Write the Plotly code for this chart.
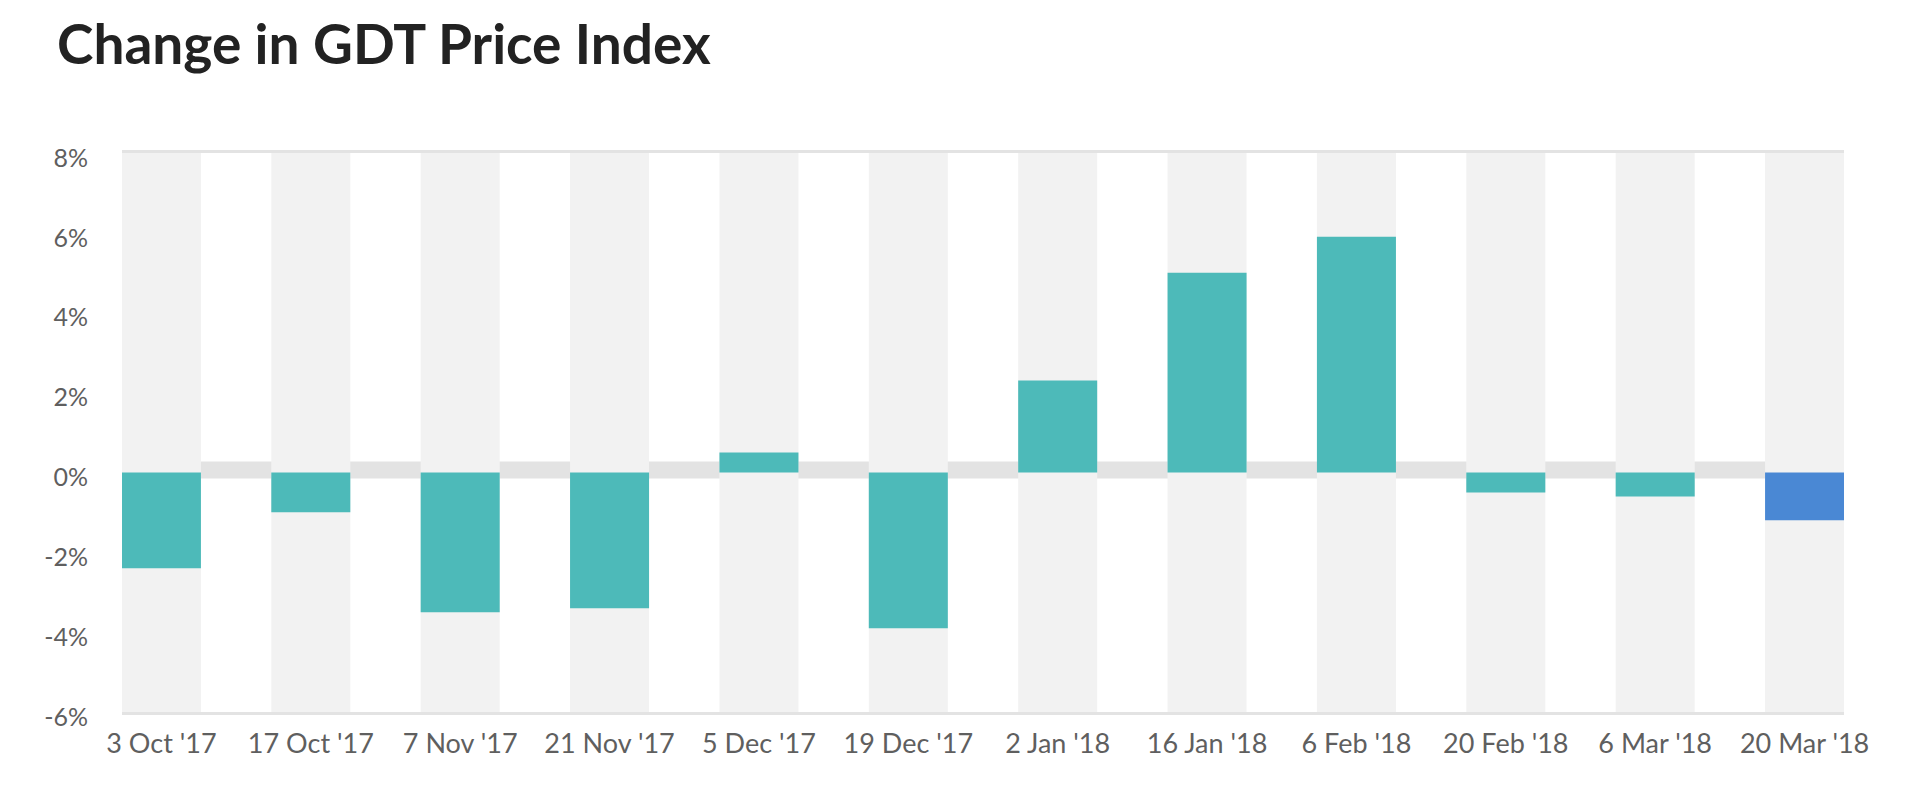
import plotly.graph_objects as go

# ---- data ----
dates = ["3 Oct '17", "17 Oct '17", "7 Nov '17", "21 Nov '17", "5 Dec '17", "19 Dec '17",
         "2 Jan '18", "16 Jan '18", "6 Feb '18", "20 Feb '18", "6 Mar '18", "20 Mar '18"]
change_pct = [-2.4, -1.0, -3.5, -3.4, 0.5, -3.9, 2.3, 5.0, 5.9, -0.5, -0.6, -1.2]
ytick_vals = [8, 6, 4, 2, 0, -2, -4, -6]
ytick_text = ["8%", "6%", "4%", "2%", "0%", "-2%", "-4%", "-6%"]
y_min, y_max = -6, 8

TEAL = "#4DBAB9"
BLUE = "#4A88D4"
bar_colors = [TEAL] * (len(dates) - 1) + [BLUE]

# page body has an 8px margin, so the figure is sized/offset to compensate
FIG_W, FIG_H = 1904, 783

fig = go.Figure()

# background columns behind each bar
fig.add_trace(go.Bar(
    x=dates,
    y=[y_max - y_min] * len(dates),
    base=[y_min] * len(dates),
    marker=dict(color="#F2F2F2", line=dict(width=0)),
    hoverinfo="skip",
    showlegend=False,
))

# value bars
fig.add_trace(go.Bar(
    x=dates,
    y=change_pct,
    marker=dict(color=bar_colors, line=dict(width=0), cornerradius=3),
    showlegend=False,
))

# thick grey zero band (sits slightly above the zero value)
fig.add_shape(
    type="rect", layer="below",
    xref="paper", x0=0, x1=1,
    yref="y", ysizemode="pixel", yanchor=0, y0=-6, y1=11,
    fillcolor="#E3E3E3", line=dict(width=0),
)

font_family = "Lato, 'Open Sans', sans-serif"

fig.update_layout(
    width=FIG_W, height=FIG_H,
    barmode="overlay",
    bargap=0.471,
    plot_bgcolor="white",
    paper_bgcolor="white",
    margin=dict(l=114, r=68, t=145, b=79),
    title=dict(
        text="Change in GDT Price Index",
        font=dict(family=font_family, size=55, color="#222222", weight="bold"),
        xref="container", yref="container",
        x=49 / FIG_W, xanchor="left",
        y=1 - 37 / FIG_H, yanchor="middle",
    ),
    font=dict(family=font_family, color="#5f5f5f"),
)

fig.update_xaxes(
    type="category",
    range=[-0.264, len(dates) - 1 + 0.264],
    showgrid=False,
    zeroline=False,
    showline=True, mirror=True,
    linecolor="#E3E3E3", linewidth=3,
    ticks="",
    ticklabelstandoff=6,
    tickfont=dict(size=27, color="#5f5f5f"),
    fixedrange=True,
)

fig.update_yaxes(
    range=[y_min, y_max],
    tickvals=ytick_vals,
    ticktext=ytick_text,
    showgrid=False,
    zeroline=False,
    showline=False,
    ticks="",
    ticklabelstandoff=33,
    ticklabelshift=5,
    tickfont=dict(size=25, color="#5f5f5f"),
    fixedrange=True,
)

fig.write_html("out.html")
